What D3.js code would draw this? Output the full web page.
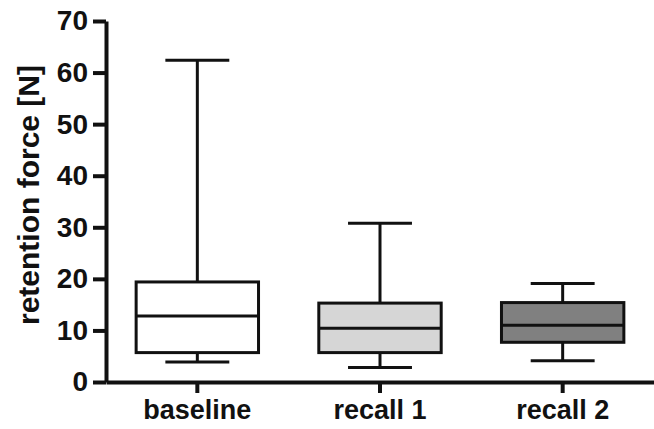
<!DOCTYPE html>
<html>
<head>
<meta charset="utf-8">
<script src="https://cdn.jsdelivr.net/npm/d3@7"></script>
<style>
  body { margin: 0; background: #fff; }
  svg { display: block; font-family: "Liberation Sans", Arial, sans-serif; font-weight: bold; }
</style>
</head>
<body>
<div id="chart"></div>
<script>
// data (retention force in N)
const groups = ['baseline', 'recall 1', 'recall 2'];
const whiskerLow = [3.9, 2.8, 4.1];
const q1 = [5.7, 5.7, 7.7];
const median = [12.8, 10.4, 11.0];
const q3 = [19.4, 15.3, 15.4];
const whiskerHigh = [62.4, 30.8, 19.1];
const fills = ['#ffffff', '#d6d6d6', '#808080'];
const yTicks = [0, 10, 20, 30, 40, 50, 60, 70];

const width = 654, height = 429;
const margin = { top: 21, right: 0, bottom: 47, left: 106 };

const svg = d3.select('#chart')
  .append('svg')
  .attr('width', width)
  .attr('height', height);

const x = d3.scaleBand()
  .domain(groups)
  .range([margin.left, width - margin.right]);

const y = d3.scaleLinear()
  .domain([0, 70])
  .range([height - margin.bottom, margin.top]);

const boxW = x.bandwidth() * 0.67;
const capW = x.bandwidth() * 0.35;
const ink = '#111';

// boxes
groups.forEach((g, i) => {
  const cx = x(g) + x.bandwidth() / 2;
  const grp = svg.append('g');

  // whisker stems
  grp.append('line')
    .attr('x1', cx).attr('x2', cx)
    .attr('y1', y(whiskerHigh[i])).attr('y2', y(q3[i]))
    .attr('stroke', ink).attr('stroke-width', 3);
  grp.append('line')
    .attr('x1', cx).attr('x2', cx)
    .attr('y1', y(q1[i])).attr('y2', y(whiskerLow[i]))
    .attr('stroke', ink).attr('stroke-width', 3);

  // caps
  [whiskerHigh[i], whiskerLow[i]].forEach(v => {
    grp.append('line')
      .attr('x1', cx - capW / 2).attr('x2', cx + capW / 2)
      .attr('y1', y(v)).attr('y2', y(v))
      .attr('stroke', ink).attr('stroke-width', 3);
  });

  // box
  grp.append('rect')
    .attr('x', cx - boxW / 2)
    .attr('y', y(q3[i]))
    .attr('width', boxW)
    .attr('height', y(q1[i]) - y(q3[i]))
    .attr('fill', fills[i])
    .attr('stroke', ink)
    .attr('stroke-width', 3);

  // median
  grp.append('line')
    .attr('x1', cx - boxW / 2).attr('x2', cx + boxW / 2)
    .attr('y1', y(median[i])).attr('y2', y(median[i]))
    .attr('stroke', ink).attr('stroke-width', 3);
});

// Y axis
const yAxis = svg.append('g')
  .attr('transform', `translate(${margin.left},0)`)
  .call(d3.axisLeft(y).tickValues(yTicks).tickSize(13).tickSizeOuter(0).tickPadding(5));
yAxis.select('.domain').attr('stroke', ink).attr('stroke-width', 4);
yAxis.selectAll('.tick line').attr('stroke', ink).attr('stroke-width', 4);
yAxis.selectAll('.tick text')
  .attr('fill', ink)
  .style('font-size', '28px')
  .style('font-weight', 'bold')
  .style('font-family', '"Liberation Sans", Arial, sans-serif');

// X axis
const xAxis = svg.append('g')
  .attr('transform', `translate(0,${y(0)})`)
  .call(d3.axisBottom(x).tickSize(11).tickSizeOuter(0).tickPadding(7));
xAxis.select('.domain').attr('stroke', ink).attr('stroke-width', 4);
xAxis.selectAll('.tick line').attr('stroke', ink).attr('stroke-width', 4);
xAxis.selectAll('.tick text')
  .attr('fill', ink)
  .style('font-size', '27px')
  .style('font-weight', 'bold')
  .style('font-family', '"Liberation Sans", Arial, sans-serif');

// Y axis title
svg.append('text')
  .attr('transform', `translate(39,195) rotate(-90)`)
  .attr('text-anchor', 'middle')
  .attr('fill', ink)
  .style('font-size', '30px')
  .text('retention force [N]');
</script>
</body>
</html>
